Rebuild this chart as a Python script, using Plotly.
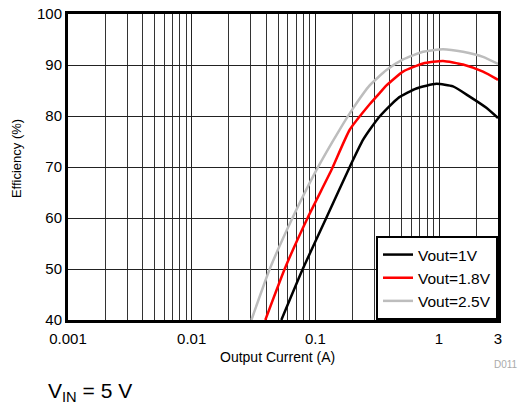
import plotly.graph_objects as go
import numpy as np

# Data
i_1v0 = [0.0531, 0.0791, 0.1236, 0.1897, 0.2428, 0.2753, 0.331, 0.466, 0.656, 0.953, 1.298, 1.771, 2.416, 3.0]
e_1v0 = [40.0, 50.0, 60.2, 70.0, 75.3, 77.3, 79.9, 83.5, 85.4, 86.3, 85.8, 83.8, 81.6, 79.6]

i_1v8 = [0.0394, 0.0565, 0.0873, 0.1349, 0.1897, 0.275, 0.331, 0.376, 0.512, 0.743, 1.077, 1.564, 2.27, 3.0]
e_1v8 = [40.0, 50.0, 60.2, 69.4, 77.3, 82.3, 84.5, 86.0, 88.7, 90.3, 90.8, 90.1, 88.7, 87.1]

i_2v5 = [0.0304, 0.0428, 0.0659, 0.102, 0.157, 0.2018, 0.275, 0.376, 0.512, 0.743, 1.077, 1.564, 2.27, 3.0]
e_2v5 = [40.0, 50.0, 60.2, 69.4, 77.3, 81.5, 86.0, 89.0, 91.1, 92.6, 93.1, 92.6, 91.6, 90.2]

series_names = ["Vout=1V", "Vout=1.8V", "Vout=2.5V"]
series_colors = ["#000000", "#ff0000", "#bdbdbd"]

x_tick_vals = [0.001, 0.01, 0.1, 1, 3]
x_tick_text = ["0.001", "0.01", "0.1", "1", "3"]
y_tick_vals = [40, 50, 60, 70, 80, 90, 100]

minor_vals = [m * 10.0 ** d for d in range(-3, 1) for m in range(2, 10) if m * 10.0 ** d < 3]

FONT = "Liberation Sans, Arial, Helvetica, sans-serif"

fig = go.Figure()
for xs, ys, name, color in zip([i_1v0, i_1v8, i_2v5], [e_1v0, e_1v8, e_2v5], series_names, series_colors):
    fig.add_trace(go.Scatter(x=xs, y=ys, mode="lines", name=name,
                             line=dict(color=color, width=2.5, shape="spline", smoothing=0.5)))

fig.update_layout(
    width=521, height=405,
    margin=dict(l=68, r=23, t=14, b=85, autoexpand=False),
    paper_bgcolor="white", plot_bgcolor="white",
    font=dict(family=FONT, size=15, color="black"),
    showlegend=True,
    legend=dict(x=1, y=0, xanchor="right", yanchor="bottom",
                bgcolor="white", bordercolor="black", borderwidth=2,
                font=dict(family=FONT, size=15.5), itemwidth=30,
                tracegroupgap=0),
)

fig.update_xaxes(
    type="log", range=[np.log10(0.001), np.log10(3)],
    tickvals=x_tick_vals, ticktext=x_tick_text,
    showgrid=True, gridcolor="#222222", gridwidth=1,
    minor=dict(tickvals=minor_vals, showgrid=True, gridcolor="#333333", gridwidth=1, ticks=""),
    ticks="", showline=True, linecolor="black", linewidth=3, mirror=True,
    tickfont=dict(size=15), zeroline=False, automargin=False,
    ticklabelstandoff=3, ticklabeloverflow="allow",
)
fig.update_yaxes(
    range=[40, 100], tickvals=y_tick_vals,
    showgrid=True, gridcolor="#222222", gridwidth=1,
    ticks="", showline=True, linecolor="black", linewidth=3, mirror=True,
    tickfont=dict(size=15), zeroline=False, automargin=False,
    ticklabeloverflow="allow",
)

fig.add_annotation(text="Output Current (A)", xref="paper", yref="paper", x=0.488, y=-0.121,
                   xanchor="center", yanchor="middle", showarrow=False,
                   font=dict(family=FONT, size=14, color="black"))
fig.add_annotation(text="Efficiency (%)", xref="paper", yref="paper", x=-0.121, y=0.529,
                   xanchor="center", yanchor="middle", showarrow=False, textangle=-90,
                   font=dict(family=FONT, size=13, color="black"))
fig.add_annotation(text="D011", xref="paper", yref="paper", x=1.051, y=-0.144,
                   xanchor="right", yanchor="middle", showarrow=False,
                   font=dict(family=FONT, size=10, color="#aaaaaa"))
fig.add_annotation(text="V<sub>IN</sub> = 5 V", xref="paper", yref="paper",
                   x=-0.051, y=-0.235, xanchor="left", yanchor="middle", showarrow=False,
                   font=dict(family=FONT, size=21, color="black"))

fig.write_html(
    "out.html",
    config={"displayModeBar": False},
    post_script="document.body.style.margin='0';document.documentElement.style.overflow='hidden';",
)
